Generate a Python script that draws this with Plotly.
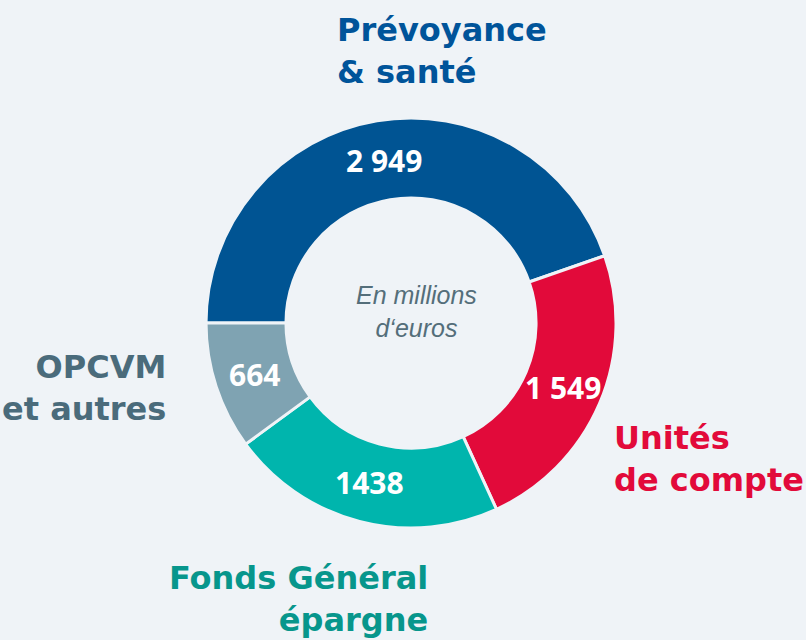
import numpy as np
import plotly.graph_objects as go

categories = ["Prévoyance & santé", "Unités de compte", "Fonds Général épargne", "OPCVM et autres"]
values = [2949, 1549, 1438, 664]
value_labels = ["2 949", "1 549", "1438", "664"]
slice_colors = ["#005493", "#E20A3A", "#00B5AD", "#7FA3B2"]
label_colors = ["#00549A", "#E20A3A", "#07968C", "#4A6B7B"]
label_texts = ["Prévoyance<br>& santé", "Unités<br>de compte", "Fonds Général<br>épargne", "OPCVM<br>et autres"]

BG = "#EFF3F7"
VFONT = "Open Sans"
LFONT = "DejaVu Sans"
W, H = 806, 640
DOM_X = [0.2556, 0.7643]
DOM_Y = [0.175, 0.8156]
HOLE = 0.61

fig = go.Figure()
fig.add_trace(go.Pie(
    labels=categories,
    values=values,
    textinfo="none",
    hole=HOLE,
    sort=False,
    direction="clockwise",
    rotation=-90,
    marker=dict(colors=slice_colors, line=dict(color=BG, width=3)),
    domain=dict(x=DOM_X, y=DOM_Y),
    showlegend=False,
))

# Value labels at each slice's mid-angle, mid-ring (derived from the data)
cx = (DOM_X[0] + DOM_X[1]) / 2
cy = (DOM_Y[0] + DOM_Y[1]) / 2
r_out = min((DOM_X[1] - DOM_X[0]) * W, (DOM_Y[1] - DOM_Y[0]) * H) / 2
r_mid = r_out * (1 + HOLE) / 2
vals = np.array(values, dtype=float)
cum = np.cumsum(vals) - vals / 2
mid_angles = 180 - cum / vals.sum() * 360  # start at 9 o'clock, clockwise
for lab, a in zip(value_labels, mid_angles):
    ar = np.deg2rad(a)
    fig.add_annotation(
        text=lab, x=cx + r_mid * np.cos(ar) / W, y=cy + r_mid * np.sin(ar) / H,
        xref="paper", yref="paper", xanchor="center", yanchor="middle", showarrow=False,
        font=dict(family=VFONT, size=30, color="white", weight="bold"),
    )

# Outer category labels
pos = [
    dict(x=335, y=51, xanchor="left", align="left"),
    dict(x=612, y=459, xanchor="left", align="left"),
    dict(x=430, y=599, xanchor="right", align="right"),
    dict(x=168, y=388, xanchor="right", align="right"),
]
for txt, col, p in zip(label_texts, label_colors, pos):
    fig.add_annotation(
        text=txt, x=p["x"] / W, y=1 - p["y"] / H, xref="paper", yref="paper",
        xanchor=p["xanchor"], yanchor="middle", align=p["align"], showarrow=False,
        font=dict(family=LFONT, size=32, color=col, weight="bold"),
    )

fig.add_annotation(
    text="<i>En millions<br>d‘euros</i>", x=416 / W, y=1 - 311 / H,
    xref="paper", yref="paper", xanchor="center", yanchor="middle", showarrow=False,
    font=dict(family="Liberation Sans", size=25, color="#546E7A"),
)

fig.update_layout(
    width=W, height=H,
    margin=dict(l=0, r=0, t=0, b=0),
    paper_bgcolor=BG, plot_bgcolor=BG,
)

fig.write_html(
    "out.html",
    config={"displayModeBar": False},
    post_script="document.body.style.margin='0';document.body.style.background='%s';" % BG,
)
